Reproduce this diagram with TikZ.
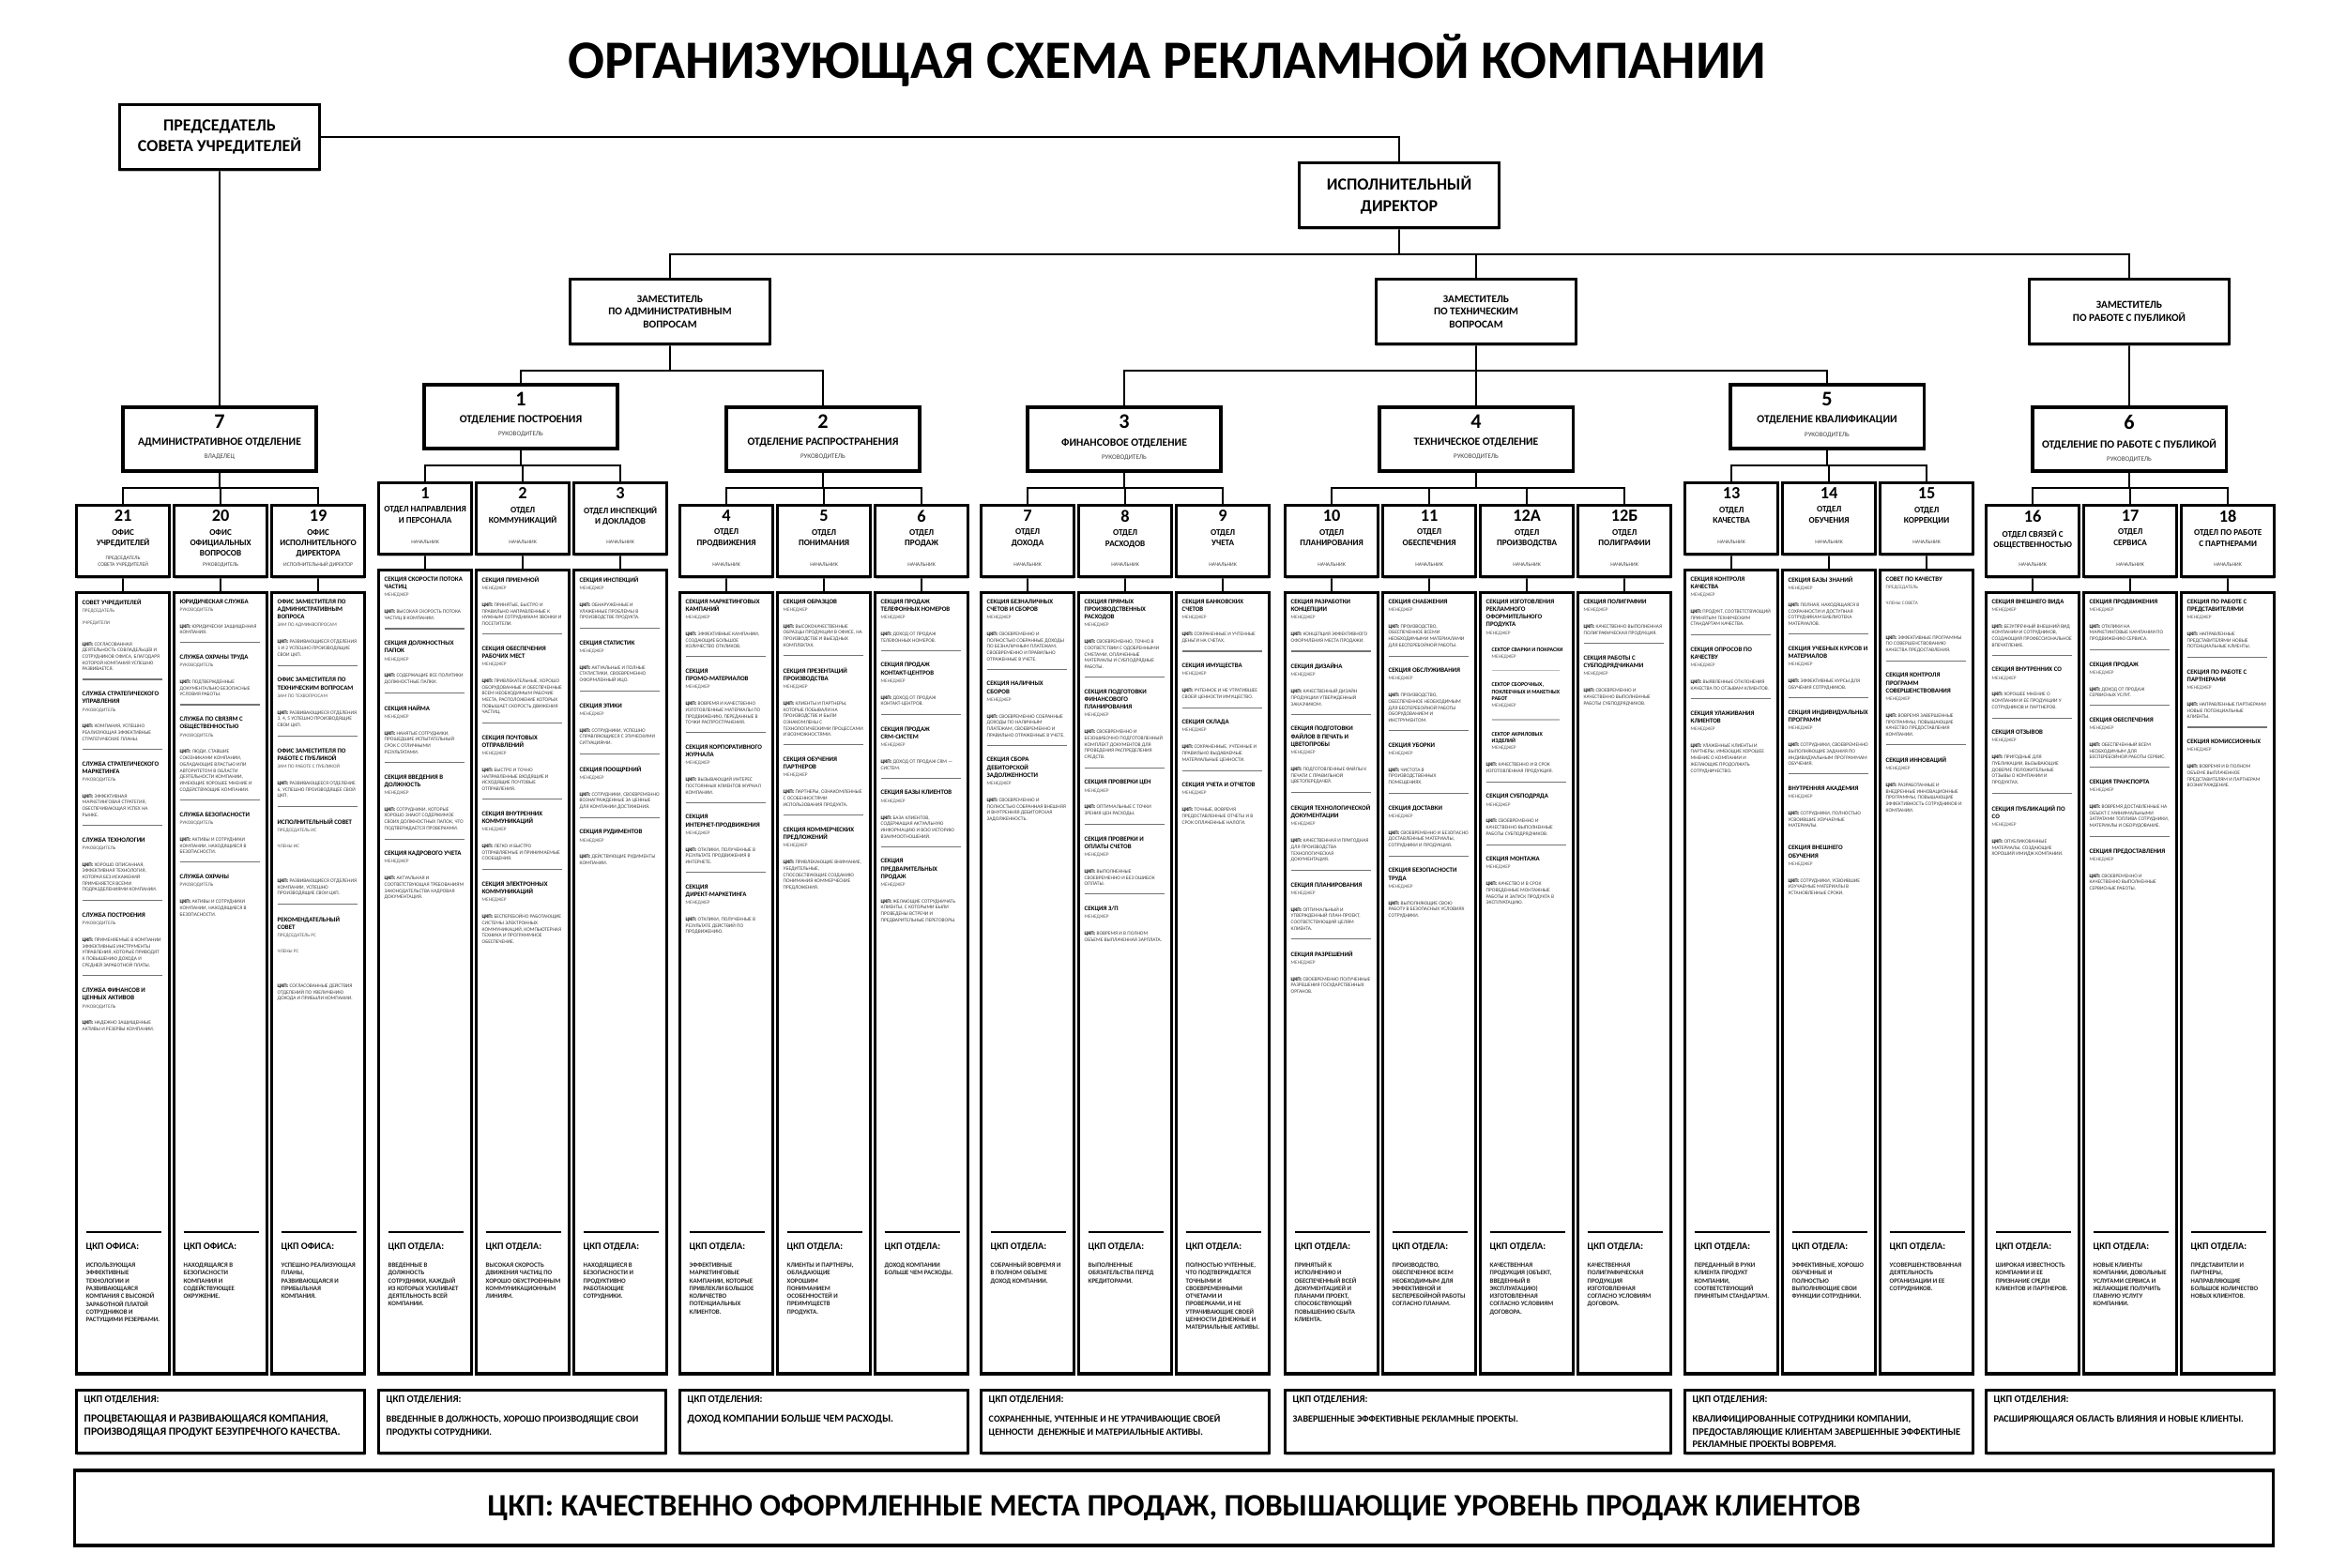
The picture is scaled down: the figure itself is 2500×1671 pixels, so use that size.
\documentclass[tikz,border=0pt]{standalone}
\usepackage{fontspec}
\setmainfont{Carlito}
\usepackage{xcolor}
\usetikzlibrary{positioning}
\usetikzlibrary{shadows}
\pgfdeclarelayer{edgelayer}
\pgfdeclarelayer{nodelayer}
\pgfsetlayers{edgelayer,nodelayer,main}
\tikzstyle{none}=[inner sep=0mm]
\tikzstyle{box}=[draw=black,line width=0.9pt,fill=white,inner sep=0mm,drop shadow={shadow xshift=0pt,shadow yshift=-0.6pt,opacity=0.55}]
\tikzstyle{headline}=[none,font=\fontsize{16.4}{19}\selectfont\bfseries]
\tikzstyle{top box}=[box,minimum width=2.13cm,minimum height=0.69cm,align=center,font=\fontsize{5.1}{6.4}\selectfont\bfseries]
\tikzstyle{deputy}=[box,minimum width=2.13cm,minimum height=0.69cm,align=center,font=\fontsize{3.2}{3.8}\selectfont\bfseries]
\tikzstyle{dept}=[box,minimum width=2.06cm,minimum height=0.68cm]
\tikzstyle{dnum}=[none,font=\fontsize{6.3}{6.3}\selectfont\bfseries]
\tikzstyle{dname}=[none,font=\fontsize{3.3}{4}\selectfont\bfseries]
\tikzstyle{drole}=[none,font=\fontsize{2}{2.4}\selectfont,text=black!75]
\tikzstyle{hdr}=[box,minimum width=0.99cm,minimum height=0.76cm]
\tikzstyle{hnum}=[none,font=\fontsize{5.2}{5.2}\selectfont\bfseries]
\tikzstyle{hname}=[none,align=center,font=\fontsize{2.6}{3.2}\selectfont\bfseries]
\tikzstyle{hrole}=[none,align=center,font=\fontsize{1.6}{1.9}\selectfont,text=black!75]
\tikzstyle{col}=[box,minimum width=0.99cm]
\tikzstyle{coltext}=[none,text width=0.85cm,align=left,font=\fontsize{1.6}{1.9}\selectfont]
\tikzstyle{colcpk}=[none,text width=0.8cm,align=left,font=\fontsize{2}{2.4}\selectfont]
\tikzstyle{cpk}=[box,minimum height=0.67cm]
\tikzstyle{divtext}=[none,text width=3.9cm,align=left,font=\fontsize{3.1}{3.75}\selectfont]
\tikzstyle{bottom box}=[box,minimum width=23.42cm,minimum height=0.8cm,font=\fontsize{9.45}{11}\selectfont\bfseries]
\tikzstyle{link}=[line width=0.65pt]

% small type: normal interword spaces, plain ragged right
\newcommand{\orgfs}[2]{\fontsize{#1}{#2}\selectfont\spaceskip=0pt\xspaceskip=0pt\rightskip=0pt plus 1fil\relax}
% text blocks of the columns
\newcommand{\orgsec}[3]{{\orgfs{1.95}{2.35}\bfseries #1\par}%
  {\orgfs{1.5}{2.3}\color{black!65}#2\par}%
  \vskip 3.2pt
  {\orgfs{1.55}{1.9}\color{black!75}{\color{black}\bfseries ЦКП:} #3\par}}
\newcommand{\orgm}[2]{\orgsec{#1}{МЕНЕДЖЕР}{#2}}
\newcommand{\orgsep}{\vskip 2.4pt{\color{black!55}\hrule height 0.3pt}\vskip 3.6pt}
\newcommand{\orgmembers}[2]{#1\par\vskip 2.5pt #2\par\vskip 5.4pt}
\newcommand{\orgsector}[1]{{\leftskip=0.06cm\orgfs{1.7}{2.1}\color{black}\bfseries #1\par}%
  {\leftskip=0.06cm\orgfs{1.5}{2.1}МЕНЕДЖЕР\par}}
\newcommand{\orgsubsep}{\vskip 1.6pt\moveright0.06cm\vbox{\color{black!25}\hrule width 0.72cm height 0.3pt}\vskip 2.6pt}
\newcommand{\orgcpk}[2]{\hrule height 0.55pt\vskip 3.2pt{\orgfs{2.9}{3.4}\bfseries ЦКП #1:\par}%
  \vskip 3pt{\orgfs{1.95}{2.36}\bfseries\color{black!85}#2\par}}
\newcommand{\orgdivtext}[2]{{\orgfs{3}{3.6}\bfseries ЦКП ОТДЕЛЕНИЯ:\par}%
  \vskip 2.3pt{\orgfs{#1}{3.75}\bfseries #2\par}}

% boxes
\newcommand{\orgdept}[6]{%
  \node[dept] (#1) at (#2,#3) {};
  \node[dnum,below=0.09cm of #1.north] (#1n) {#4};
  \node[dname,below=0.09cm of #1n] (#1t) {#5};
  \node[drole,below=0.065cm of #1t] (#1r) {#6};}
\newcommand{\orghdr}[6]{%
  \node[hdr,anchor=north west] (#1) at (#2,#3) {};
  \node[hnum,below=0.06cm of #1.north] (#1n) {#4};
  \node[hname,below=0.07cm of #1n] (#1t) {#5};
  \node[hrole,above=0.115cm of #1.south] (#1r) {#6};}
\newcommand{\orgcol}[7]{%
  \node[col,minimum height=#4,anchor=north west] (#1) at (#2,#3) {};
  \node[coltext,anchor=north west] (#1s) at (#2+7,#3+8) {#5};
  \node[colcpk,anchor=north west] (#1k) at (#2+11,1311) {\orgcpk{#6}{#7}};}
\newcommand{\orgdiv}[5]{%
  \node[cpk,minimum width=#3,anchor=north west] (#1) at (#2,1480) {};
  \node[divtext,anchor=north west] (#1t) at (#2+9,1487) {\orgdivtext{#4}{#5}};}

\begin{document}
\begin{tikzpicture}[x=0.01cm,y=-0.01cm]
	\useasboundingbox (0,0) rectangle (2500,1671);
	\begin{pgfonlayer}{edgelayer}
		\fill[white] (0,0) rectangle (2500,1671);
	\end{pgfonlayer}
	\begin{pgfonlayer}{nodelayer}
		\node [style=headline] (title) at (1244,64) {ОРГАНИЗУЮЩАЯ СХЕМА РЕКЛАМНОЙ КОМПАНИИ};
		\node [style=top box] (chair) at (234,146) {ПРЕДСЕДАТЕЛЬ\\СОВЕТА УЧРЕДИТЕЛЕЙ};
		\node [style=top box] (exec) at (1491,208) {ИСПОЛНИТЕЛЬНЫЙ\\ДИРЕКТОР};
		\node [style=deputy] (depadm) at (714,332) {ЗАМЕСТИТЕЛЬ\\ПО АДМИНИСТРАТИВНЫМ\\ВОПРОСАМ};
		\node [style=deputy] (deptech) at (1573,332) {ЗАМЕСТИТЕЛЬ\\ПО ТЕХНИЧЕСКИМ\\ВОПРОСАМ};
		\node [style=deputy] (deppub) at (2269,332) {ЗАМЕСТИТЕЛЬ\\ПО РАБОТЕ С ПУБЛИКОЙ};

		\orgdept{d7}{234}{468}{7}{АДМИНИСТРАТИВНОЕ ОТДЕЛЕНИЕ}{ВЛАДЕЛЕЦ}
		\orgdept{d1}{555}{444}{1}{ОТДЕЛЕНИЕ ПОСТРОЕНИЯ}{РУКОВОДИТЕЛЬ}
		\orgdept{d2}{877}{468}{2}{ОТДЕЛЕНИЕ РАСПРОСТРАНЕНИЯ}{РУКОВОДИТЕЛЬ}
		\orgdept{d3}{1198}{468}{3}{ФИНАНСОВОЕ ОТДЕЛЕНИЕ}{РУКОВОДИТЕЛЬ}
		\orgdept{d4}{1573}{468}{4}{ТЕХНИЧЕСКОЕ ОТДЕЛЕНИЕ}{РУКОВОДИТЕЛЬ}
		\orgdept{d5}{1947}{444}{5}{ОТДЕЛЕНИЕ КВАЛИФИКАЦИИ}{РУКОВОДИТЕЛЬ}
		\orgdept{d6}{2269}{468}{6}{ОТДЕЛЕНИЕ ПО РАБОТЕ С ПУБЛИКОЙ}{РУКОВОДИТЕЛЬ}

		% column heads
		\orghdr{h21}{80}{537}{21}{ОФИС\\УЧРЕДИТЕЛЕЙ}{ПРЕДСЕДАТЕЛЬ\\СОВЕТА УЧРЕДИТЕЛЕЙ}
		\orghdr{h20}{184}{537}{20}{ОФИС\\ОФИЦИАЛЬНЫХ\\ВОПРОСОВ}{РУКОВОДИТЕЛЬ}
		\orghdr{h19}{288}{537}{19}{ОФИС\\ИСПОЛНИТЕЛЬНОГО\\ДИРЕКТОРА}{ИСПОЛНИТЕЛЬНЫЙ ДИРЕКТОР}
		\orghdr{h1}{402}{513}{1}{ОТДЕЛ НАПРАВЛЕНИЯ\\И ПЕРСОНАЛА}{НАЧАЛЬНИК}
		\orghdr{h2}{506}{513}{2}{ОТДЕЛ\\КОММУНИКАЦИЙ}{НАЧАЛЬНИК}
		\orghdr{h3}{610}{513}{3}{ОТДЕЛ ИНСПЕКЦИЙ\\И ДОКЛАДОВ}{НАЧАЛЬНИК}
		\orghdr{h4}{723}{537}{4}{ОТДЕЛ\\ПРОДВИЖЕНИЯ}{НАЧАЛЬНИК}
		\orghdr{h5}{827}{537}{5}{ОТДЕЛ\\ПОНИМАНИЯ}{НАЧАЛЬНИК}
		\orghdr{h6}{931}{537}{6}{ОТДЕЛ\\ПРОДАЖ}{НАЧАЛЬНИК}
		\orghdr{h7}{1044}{537}{7}{ОТДЕЛ\\ДОХОДА}{НАЧАЛЬНИК}
		\orghdr{h8}{1148}{537}{8}{ОТДЕЛ\\РАСХОДОВ}{НАЧАЛЬНИК}
		\orghdr{h9}{1252}{537}{9}{ОТДЕЛ\\УЧЕТА}{НАЧАЛЬНИК}
		\orghdr{h10}{1368}{537}{10}{ОТДЕЛ\\ПЛАНИРОВАНИЯ}{НАЧАЛЬНИК}
		\orghdr{h11}{1472}{537}{11}{ОТДЕЛ\\ОБЕСПЕЧЕНИЯ}{НАЧАЛЬНИК}
		\orghdr{h12a}{1576}{537}{12А}{ОТДЕЛ\\ПРОИЗВОДСТВА}{НАЧАЛЬНИК}
		\orghdr{h12b}{1680}{537}{12Б}{ОТДЕЛ\\ПОЛИГРАФИИ}{НАЧАЛЬНИК}
		\orghdr{h13}{1794}{513}{13}{ОТДЕЛ\\КАЧЕСТВА}{НАЧАЛЬНИК}
		\orghdr{h14}{1898}{513}{14}{ОТДЕЛ\\ОБУЧЕНИЯ}{НАЧАЛЬНИК}
		\orghdr{h15}{2002}{513}{15}{ОТДЕЛ\\КОРРЕКЦИИ}{НАЧАЛЬНИК}
		\orghdr{h16}{2115}{537}{16}{ОТДЕЛ СВЯЗЕЙ С\\ОБЩЕСТВЕННОСТЬЮ}{НАЧАЛЬНИК}
		\orghdr{h17}{2219}{537}{17}{ОТДЕЛ\\СЕРВИСА}{НАЧАЛЬНИК}
		\orghdr{h18}{2323}{537}{18}{ОТДЕЛ ПО РАБОТЕ\\С ПАРТНЕРАМИ}{НАЧАЛЬНИК}

		% columns
		\orgcol{c21}{80}{630}{8.32cm}{%
			\orgsec{СОВЕТ УЧРЕДИТЕЛЕЙ}{ПРЕДСЕДАТЕЛЬ\par\vskip 1.4pt УЧРЕДИТЕЛИ\par\vskip 1.4pt}{СОГЛАСОВАННАЯ ДЕЯТЕЛЬНОСТЬ СОВЛАДЕЛЬЦЕВ И СОТРУДНИКОВ ОФИСА, БЛАГОДАРЯ КОТОРОЙ КОМПАНИЯ УСПЕШНО РАЗВИВАЕТСЯ.}\orgsep
			\orgsec{СЛУЖБА СТРАТЕГИЧЕСКОГО УПРАВЛЕНИЯ}{РУКОВОДИТЕЛЬ}{КОМПАНИЯ, УСПЕШНО РЕАЛИЗУЮЩАЯ ЭФФЕКТИВНЫЕ СТРАТЕГИЧЕСКИЕ ПЛАНЫ.}\orgsep
			\orgsec{СЛУЖБА СТРАТЕГИЧЕСКОГО МАРКЕТИНГА}{РУКОВОДИТЕЛЬ}{ЭФФЕКТИВНАЯ МАРКЕТИНГОВАЯ СТРАТЕГИЯ, ОБЕСПЕЧИВАЮЩАЯ УСПЕХ НА РЫНКЕ.}\orgsep
			\orgsec{СЛУЖБА ТЕХНОЛОГИИ}{РУКОВОДИТЕЛЬ}{ХОРОШО ОПИСАННАЯ, ЭФФЕКТИВНАЯ ТЕХНОЛОГИЯ, КОТОРАЯ БЕЗ ИСКАЖЕНИЙ ПРИМЕНЯЕТСЯ ВСЕМИ ПОДРАЗДЕЛЕНИЯМИ КОМПАНИИ.}\orgsep
			\orgsec{СЛУЖБА ПОСТРОЕНИЯ}{РУКОВОДИТЕЛЬ}{ПРИМЕНЯЕМЫЕ В КОМПАНИИ ЭФФЕКТИВНЫЕ ИНСТРУМЕНТЫ УПРАВЛЕНИЯ, КОТОРЫЕ ПРИВОДЯТ К ПОВЫШЕНИЮ ДОХОДА И СРЕДНЕЙ ЗАРАБОТНОЙ ПЛАТЫ.}\orgsep
			\orgsec{СЛУЖБА ФИНАНСОВ И ЦЕННЫХ АКТИВОВ}{РУКОВОДИТЕЛЬ}{НАДЕЖНО ЗАЩИЩЕННЫЕ АКТИВЫ И РЕЗЕРВЫ КОМПАНИИ.}}%
			{ОФИСА}{ИСПОЛЬЗУЮЩАЯ ЭФФЕКТИВНЫЕ ТЕХНОЛОГИИ И РАЗВИВАЮЩАЯСЯ КОМПАНИЯ С ВЫСОКОЙ ЗАРАБОТНОЙ ПЛАТОЙ СОТРУДНИКОВ И РАСТУЩИМИ РЕЗЕРВАМИ.}
		\orgcol{c20}{184}{630}{8.32cm}{%
			\orgsec{ЮРИДИЧЕСКАЯ СЛУЖБА}{РУКОВОДИТЕЛЬ}{ЮРИДИЧЕСКИ ЗАЩИЩЕННАЯ КОМПАНИЯ.}\orgsep
			\orgsec{СЛУЖБА ОХРАНЫ ТРУДА}{РУКОВОДИТЕЛЬ}{ПОДТВЕРЖДЕННЫЕ ДОКУМЕНТАЛЬНО БЕЗОПАСНЫЕ УСЛОВИЯ РАБОТЫ.}\orgsep
			\orgsec{СЛУЖБА ПО СВЯЗЯМ С ОБЩЕСТВЕННОСТЬЮ}{РУКОВОДИТЕЛЬ}{ЛЮДИ, СТАВШИЕ СОЮЗНИКАМИ КОМПАНИИ, ОБЛАДАЮЩИЕ ВЛАСТЬЮ ИЛИ АВТОРИТЕТОМ В ОБЛАСТИ ДЕЯТЕЛЬНОСТИ КОМПАНИИ, ИМЕЮЩИЕ ХОРОШЕЕ МНЕНИЕ И СОДЕЙСТВУЮЩИЕ КОМПАНИИ.}\orgsep
			\orgsec{СЛУЖБА БЕЗОПАСНОСТИ}{РУКОВОДИТЕЛЬ}{АКТИВЫ И СОТРУДНИКИ КОМПАНИИ, НАХОДЯЩИЕСЯ В БЕЗОПАСНОСТИ.}\orgsep
			\orgsec{СЛУЖБА ОХРАНЫ}{РУКОВОДИТЕЛЬ}{АКТИВЫ И СОТРУДНИКИ КОМПАНИИ, НАХОДЯЩИЕСЯ В БЕЗОПАСНОСТИ.}}%
			{ОФИСА}{НАХОДЯЩАЯСЯ В БЕЗОПАСНОСТИ КОМПАНИЯ И СОДЕЙСТВУЮЩЕЕ ОКРУЖЕНИЕ.}
		\orgcol{c19}{288}{630}{8.32cm}{%
			\orgsec{ОФИС ЗАМЕСТИТЕЛЯ ПО АДМИНИСТРАТИВНЫМ ВОПРОСА}{ЗАМ ПО АДМИНВОПРОСАМ}{РАЗВИВАЮЩИЕСЯ ОТДЕЛЕНИЯ 1 И 2 УСПЕШНО ПРОИЗВОДЯЩИЕ СВОИ ЦКП.}\orgsep
			\orgsec{ОФИС ЗАМЕСТИТЕЛЯ ПО ТЕХНИЧЕСКИМ ВОПРОСАМ}{ЗАМ ПО ТЕХВОПРОСАМ}{РАЗВИВАЮЩИЕСЯ ОТДЕЛЕНИЯ 3, 4, 5 УСПЕШНО ПРОИЗВОДЯЩИЕ СВОИ ЦКП.}\orgsep
			\orgsec{ОФИС ЗАМЕСТИТЕЛЯ ПО РАБОТЕ С ПУБЛИКОЙ}{ЗАМ ПО РАБОТЕ С ПУБЛИКОЙ}{РАЗВИВАЮЩЕЕСЯ ОТДЕЛЕНИЕ 6, УСПЕШНО ПРОИЗВОДЯЩЕЕ СВОЙ ЦКП.}\orgsep
			\orgsec{ИСПОЛНИТЕЛЬНЫЙ СОВЕТ}{\orgmembers{ПРЕДСЕДАТЕЛЬ ИС}{ЧЛЕНЫ ИС}}{РАЗВИВАЮЩИЕСЯ ОТДЕЛЕНИЯ КОМПАНИИ, УСПЕШНО ПРОИЗВОДЯЩИЕ СВОИ ЦКП.}\orgsep
			\orgsec{РЕКОМЕНДАТЕЛЬНЫЙ СОВЕТ}{\orgmembers{ПРЕДСЕДАТЕЛЬ РС}{ЧЛЕНЫ РС}}{СОГЛАСОВАННЫЕ ДЕЙСТВИЯ ОТДЕЛЕНИЙ ПО УВЕЛИЧЕНИЮ ДОХОДА И ПРИБЫЛИ КОМПАНИИ.}}%
			{ОФИСА}{УСПЕШНО РЕАЛИЗУЮЩАЯ ПЛАНЫ, РАЗВИВАЮЩАЯСЯ И ПРИБЫЛЬНАЯ КОМПАНИЯ.}
		\orgcol{c1}{402}{606}{8.56cm}{%
			\orgm{СЕКЦИЯ СКОРОСТИ ПОТОКА ЧАСТИЦ}{ВЫСОКАЯ СКОРОСТЬ ПОТОКА ЧАСТИЦ В КОМПАНИИ.}\orgsep
			\orgm{СЕКЦИЯ ДОЛЖНОСТНЫХ ПАПОК}{СОДЕРЖАЩИЕ ВСЕ ПОЛИТИКИ ДОЛЖНОСТНЫЕ ПАПКИ.}\orgsep
			\orgm{СЕКЦИЯ НАЙМА}{НАНЯТЫЕ СОТРУДНИКИ, ПРОШЕДШИЕ ИСПЫТАТЕЛЬНЫЙ СРОК С ОТЛИЧНЫМИ РЕЗУЛЬТАТАМИ.}\orgsep
			\orgm{СЕКЦИЯ ВВЕДЕНИЯ В ДОЛЖНОСТЬ}{СОТРУДНИКИ, КОТОРЫЕ ХОРОШО ЗНАЮТ СОДЕРЖИМОЕ СВОИХ ДОЛЖНОСТНЫХ ПАПОК, ЧТО ПОДТВЕРЖДАЕТСЯ ПРОВЕРКАМИ.}\orgsep
			\orgm{СЕКЦИЯ КАДРОВОГО УЧЕТА}{АКТУАЛЬНАЯ И СООТВЕТСТВУЮЩАЯ ТРЕБОВАНИЯМ ЗАКОНОДАТЕЛЬСТВА КАДРОВАЯ ДОКУМЕНТАЦИЯ.}}%
			{ОТДЕЛА}{ВВЕДЕННЫЕ В ДОЛЖНОСТЬ СОТРУДНИКИ, КАЖДЫЙ ИЗ КОТОРЫХ УСИЛИВАЕТ ДЕЯТЕЛЬНОСТЬ ВСЕЙ КОМПАНИИ.}
		\orgcol{c2}{506}{606}{8.56cm}{%
			\orgm{СЕКЦИЯ ПРИЕМНОЙ}{ПРИНЯТЫЕ, БЫСТРО И ПРАВИЛЬНО НАПРАВЛЕННЫЕ К НУЖНЫМ СОТРУДНИКАМ ЗВОНКИ И ПОСЕТИТЕЛИ.}\orgsep
			\orgm{СЕКЦИЯ ОБЕСПЕЧЕНИЯ РАБОЧИХ МЕСТ}{ПРИВЛЕКАТЕЛЬНЫЕ, ХОРОШО ОБОРУДОВАННЫЕ И ОБЕСПЕЧЕННЫЕ ВСЕМ НЕОБХОДИМЫМ РАБОЧИЕ МЕСТА, РАСПОЛОЖЕНИЕ КОТОРЫХ ПОВЫШАЕТ СКОРОСТЬ ДВИЖЕНИЯ ЧАСТИЦ.}\orgsep
			\orgm{СЕКЦИЯ ПОЧТОВЫХ ОТПРАВЛЕНИЙ}{БЫСТРО И ТОЧНО НАПРАВЛЕННЫЕ ВХОДЯЩИЕ И ИСХОДЯЩИЕ ПОЧТОВЫЕ ОТПРАВЛЕНИЯ.}\orgsep
			\orgm{СЕКЦИЯ ВНУТРЕННИХ КОММУНИКАЦИЙ}{ЛЕГКО И БЫСТРО ОТПРАВЛЯЕМЫЕ И ПРИНИМАЕМЫЕ СООБЩЕНИЯ.}\orgsep
			\orgm{СЕКЦИЯ ЭЛЕКТРОННЫХ КОММУНИКАЦИЙ}{БЕСПЕРЕБОЙНО РАБОТАЮЩИЕ СИСТЕМЫ ЭЛЕКТРОННЫХ КОММУНИКАЦИЙ, КОМПЬЮТЕРНАЯ ТЕХНИКА И ПРОГРАММНОЕ ОБЕСПЕЧЕНИЕ.}}%
			{ОТДЕЛА}{ВЫСОКАЯ СКОРОСТЬ ДВИЖЕНИЯ ЧАСТИЦ ПО ХОРОШО ОБУСТРОЕННЫМ КОММУНИКАЦИОННЫМ ЛИНИЯМ.}
		\orgcol{c3}{610}{606}{8.56cm}{%
			\orgm{СЕКЦИЯ ИНСПЕКЦИЙ}{ОБНАРУЖЕННЫЕ И УЛАЖЕННЫЕ ПРОБЛЕМЫ В ПРОИЗВОДСТВЕ ПРОДУКТА.}\orgsep
			\orgm{СЕКЦИЯ СТАТИСТИК}{АКТУАЛЬНЫЕ И ПОЛНЫЕ СТАТИСТИКИ, СВОЕВРЕМЕННО ОФОРМЛЕННЫЙ ИЦО.}\orgsep
			\orgm{СЕКЦИЯ ЭТИКИ}{СОТРУДНИКИ, УСПЕШНО СПРАВЛЯЮЩИЕСЯ С ЭТИЧЕСКИМИ СИТУАЦИЯМИ.}\orgsep
			\orgm{СЕКЦИЯ ПООЩРЕНИЙ}{СОТРУДНИКИ, СВОЕВРЕМЕННО ВОЗНАГРАЖДЕННЫЕ ЗА ЦЕННЫЕ ДЛЯ КОМПАНИИ ДОСТИЖЕНИЯ.}\orgsep
			\orgm{СЕКЦИЯ РУДИМЕНТОВ}{ДЕЙСТВУЮЩИЕ РУДИМЕНТЫ КОМПАНИИ.}}%
			{ОТДЕЛА}{НАХОДЯЩИЕСЯ В БЕЗОПАСНОСТИ И ПРОДУКТИВНО РАБОТАЮЩИЕ СОТРУДНИКИ.}
		\orgcol{c4}{723}{630}{8.32cm}{%
			\orgm{СЕКЦИЯ МАРКЕТИНГОВЫХ КАМПАНИЙ}{ЭФФЕКТИВНЫЕ КАМПАНИИ, СОЗДАЮЩИЕ БОЛЬШОЕ КОЛИЧЕСТВО ОТКЛИКОВ.}\orgsep
			\orgm{СЕКЦИЯ ПРОМО-МАТЕРИАЛОВ}{ВОВРЕМЯ И КАЧЕСТВЕННО ИЗГОТОВЛЕННЫЕ МАТЕРИАЛЫ ПО ПРОДВИЖЕНИЮ, ПЕРЕДАННЫЕ В ТОЧКИ РАСПРОСТРАНЕНИЯ.}\orgsep
			\orgm{СЕКЦИЯ КОРПОРАТИВНОГО ЖУРНАЛА}{ВЫЗЫВАЮЩИЙ ИНТЕРЕС ПОСТОЯННЫХ КЛИЕНТОВ ЖУРНАЛ КОМПАНИИ.}\orgsep
			\orgm{СЕКЦИЯ ИНТЕРНЕТ-ПРОДВИЖЕНИЯ}{ОТКЛИКИ, ПОЛУЧЕННЫЕ В РЕЗУЛЬТАТЕ ПРОДВИЖЕНИЯ В ИНТЕРНЕТЕ.}\orgsep
			\orgm{СЕКЦИЯ ДИРЕКТ-МАРКЕТИНГА}{ОТКЛИКИ, ПОЛУЧЕННЫЕ В РЕЗУЛЬТАТЕ ДЕЙСТВИЙ ПО ПРОДВИЖЕНИЮ.}}%
			{ОТДЕЛА}{ЭФФЕКТИВНЫЕ МАРКЕТИНГОВЫЕ КАМПАНИИ, КОТОРЫЕ ПРИВЛЕКЛИ БОЛЬШОЕ КОЛИЧЕСТВО ПОТЕНЦИАЛЬНЫХ КЛИЕНТОВ.}
		\orgcol{c5}{827}{630}{8.32cm}{%
			\orgm{СЕКЦИЯ ОБРАЗЦОВ}{ВЫСОКОКАЧЕСТВЕННЫЕ ОБРАЗЦЫ ПРОДУКЦИИ В ОФИСЕ, НА ПРОИЗВОДСТВЕ И ВЫЕЗДНЫХ КОМПЛЕКТАХ.}\orgsep
			\orgm{СЕКЦИЯ ПРЕЗЕНТАЦИЙ ПРОИЗВОДСТВА}{КЛИЕНТЫ И ПАРТНЕРЫ, КОТОРЫЕ ПОБЫВАЛИ НА ПРОИЗВОДСТВЕ И БЫЛИ ОЗНАКОМЛЕНЫ С ТЕХНОЛОГИЧЕСКИМИ ПРОЦЕССАМИ И ВОЗМОЖНОСТЯМИ.}\orgsep
			\orgm{СЕКЦИЯ ОБУЧЕНИЯ ПАРТНЕРОВ}{ПАРТНЕРЫ, ОЗНАКОМЛЕННЫЕ С ОСОБЕННОСТЯМИ ИСПОЛЬЗОВАНИЯ ПРОДУКТА.}\orgsep
			\orgm{СЕКЦИЯ КОММЕРЧЕСКИХ ПРЕДЛОЖЕНИЙ}{ПРИВЛЕКАЮЩИЕ ВНИМАНИЕ, УБЕДИТЕЛЬНЫЕ, СПОСОБСТВУЮЩИЕ СОЗДАНИЮ ПОНИМАНИЯ КОММЕРЧЕСКИЕ ПРЕДЛОЖЕНИЯ.}}%
			{ОТДЕЛА}{КЛИЕНТЫ И ПАРТНЕРЫ, ОБЛАДАЮЩИЕ ХОРОШИМ ПОНИМАНИЕМ ОСОБЕННОСТЕЙ И ПРЕИМУЩЕСТВ ПРОДУКТА.}
		\orgcol{c6}{931}{630}{8.32cm}{%
			\orgm{СЕКЦИЯ ПРОДАЖ ТЕЛЕФОННЫХ НОМЕРОВ}{ДОХОД ОТ ПРОДАЖ ТЕЛЕФОННЫХ НОМЕРОВ.}\orgsep
			\orgm{СЕКЦИЯ ПРОДАЖ КОНТАКТ-ЦЕНТРОВ}{ДОХОД ОТ ПРОДАЖ КОНТАКТ-ЦЕНТРОВ.}\orgsep
			\orgm{СЕКЦИЯ ПРОДАЖ CRM-СИСТЕМ}{ДОХОД ОТ ПРОДАЖ CRM — СИСТЕМ.}\orgsep
			\orgm{СЕКЦИЯ БАЗЫ КЛИЕНТОВ}{БАЗА КЛИЕНТОВ, СОДЕРЖАЩАЯ АКТУАЛЬНУЮ ИНФОРМАЦИЮ И ВСЮ ИСТОРИЮ ВЗАИМООТНОШЕНИЙ.}\orgsep
			\orgm{СЕКЦИЯ ПРЕДВАРИТЕЛЬНЫХ ПРОДАЖ}{ЖЕЛАЮЩИЕ СОТРУДНИЧАТЬ КЛИЕНТЫ, С КОТОРЫМИ БЫЛИ ПРОВЕДЕНЫ ВСТРЕЧИ И ПРЕДВАРИТЕЛЬНЫЕ ПЕРЕГОВОРЫ.}}%
			{ОТДЕЛА}{ДОХОД КОМПАНИИ БОЛЬШЕ ЧЕМ РАСХОДЫ.}
		\orgcol{c7}{1044}{630}{8.32cm}{%
			\orgm{СЕКЦИЯ БЕЗНАЛИЧНЫХ СЧЕТОВ И СБОРОВ}{СВОЕВРЕМЕННО И ПОЛНОСТЬЮ СОБРАННЫЕ ДОХОДЫ ПО БЕЗНАЛИЧНЫМ ПЛАТЕЖАМ, СВОЕВРЕМЕННО И ПРАВИЛЬНО ОТРАЖЕННЫЕ В УЧЕТЕ.}\orgsep
			\orgm{СЕКЦИЯ НАЛИЧНЫХ СБОРОВ}{СВОЕВРЕМЕННО СОБРАННЫЕ ДОХОДЫ ПО НАЛИЧНЫМ ПЛАТЕЖАМ, СВОЕВРЕМЕННО И ПРАВИЛЬНО ОТРАЖЕННЫЕ В УЧЕТЕ.}\orgsep
			\orgm{СЕКЦИЯ СБОРА ДЕБИТОРСКОЙ ЗАДОЛЖЕННОСТИ}{СВОЕВРЕМЕННО И ПОЛНОСТЬЮ СОБРАННАЯ ВНЕШНЯЯ И ВНУТРЕННЯЯ ДЕБИТОРСКАЯ ЗАДОЛЖЕННОСТЬ.}}%
			{ОТДЕЛА}{СОБРАННЫЙ ВОВРЕМЯ И В ПОЛНОМ ОБЪЕМЕ ДОХОД КОМПАНИИ.}
		\orgcol{c8}{1148}{630}{8.32cm}{%
			\orgm{СЕКЦИЯ ПРЯМЫХ ПРОИЗВОДСТВЕННЫХ РАСХОДОВ}{СВОЕВРЕМЕННО, ТОЧНО В СООТВЕТСТВИИ С ОДОБРЕННЫМИ СМЕТАМИ, ОПЛАЧЕННЫЕ МАТЕРИАЛЫ И СУБПОДРЯДНЫЕ РАБОТЫ.}\orgsep
			\orgm{СЕКЦИЯ ПОДГОТОВКИ ФИНАНСОВОГО ПЛАНИРОВАНИЯ}{СВОЕВРЕМЕННО И БЕЗОШИБОЧНО ПОДГОТОВЛЕННЫЙ КОМПЛЕКТ ДОКУМЕНТОВ ДЛЯ ПРОВЕДЕНИЯ РАСПРЕДЕЛЕНИЯ СРЕДСТВ.}\orgsep
			\orgm{СЕКЦИЯ ПРОВЕРКИ ЦЕН}{ОПТИМАЛЬНЫЕ С ТОЧКИ ЗРЕНИЯ ЦЕН РАСХОДЫ.}\orgsep
			\orgm{СЕКЦИЯ ПРОВЕРКИ И ОПЛАТЫ СЧЕТОВ}{ВЫПОЛНЕННЫЕ СВОЕВРЕМЕННО И БЕЗ ОШИБОК ОПЛАТЫ.}\orgsep
			\orgm{СЕКЦИЯ З/П}{ВОВРЕМЯ И В ПОЛНОМ ОБЪЕМЕ ВЫПЛАЧЕННАЯ ЗАРПЛАТА.}}%
			{ОТДЕЛА}{ВЫПОЛНЕННЫЕ ОБЯЗАТЕЛЬСТВА ПЕРЕД КРЕДИТОРАМИ.}
		\orgcol{c9}{1252}{630}{8.32cm}{%
			\orgm{СЕКЦИЯ БАНКОВСКИХ СЧЕТОВ}{СОХРАНЕННЫЕ И УЧТЕННЫЕ ДЕНЬГИ НА СЧЕТАХ.}\orgsep
			\orgm{СЕКЦИЯ ИМУЩЕСТВА}{УЧТЕННОЕ И НЕ УТРАТИВШЕЕ СВОЕЙ ЦЕННОСТИ ИМУЩЕСТВО.}\orgsep
			\orgm{СЕКЦИЯ СКЛАДА}{СОХРАНЕННЫЕ, УЧТЕННЫЕ И ПРАВИЛЬНО ВЫДАВАЕМЫЕ МАТЕРИАЛЬНЫЕ ЦЕННОСТИ.}\orgsep
			\orgm{СЕКЦИЯ УЧЕТА И ОТЧЕТОВ}{ТОЧНЫЕ, ВОВРЕМЯ ПРЕДОСТАВЛЕННЫЕ ОТЧЕТЫ И В СРОК ОПЛАЧЕННЫЕ НАЛОГИ.}}%
			{ОТДЕЛА}{ПОЛНОСТЬЮ УЧТЕННЫЕ, ЧТО ПОДТВЕРЖДАЕТСЯ ТОЧНЫМИ И СВОЕВРЕМЕННЫМИ ОТЧЕТАМИ И ПРОВЕРКАМИ, И НЕ УТРАЧИВАЮЩИЕ СВОЕЙ ЦЕННОСТИ ДЕНЕЖНЫЕ И МАТЕРИАЛЬНЫЕ АКТИВЫ.}
		\orgcol{c10}{1368}{630}{8.32cm}{%
			\orgm{СЕКЦИЯ РАЗРАБОТКИ КОНЦЕПЦИИ}{КОНЦЕПЦИЯ ЭФФЕКТИВНОГО ОФОРМЛЕНИЯ МЕСТА ПРОДАЖИ.}\orgsep
			\orgm{СЕКЦИЯ ДИЗАЙНА}{КАЧЕСТВЕННЫЙ ДИЗАЙН ПРОДУКЦИИ УТВЕРЖДЕННЫЙ ЗАКАЗЧИКОМ.}\orgsep
			\orgm{СЕКЦИЯ ПОДГОТОВКИ ФАЙЛОВ В ПЕЧАТЬ И ЦВЕТОПРОБЫ}{ПОДГОТОВЛЕННЫЕ ФАЙЛЫ К ПЕЧАТИ С ПРАВИЛЬНОЙ ЦВЕТОПЕРЕДАЧЕЙ.}\orgsep
			\orgm{СЕКЦИЯ ТЕХНОЛОГИЧЕСКОЙ ДОКУМЕНТАЦИИ}{КАЧЕСТВЕННАЯ И ПРИГОДНАЯ ДЛЯ ПРОИЗВОДСТВА ТЕХНОЛОГИЧЕСКАЯ ДОКУМЕНТАЦИЯ.}\orgsep
			\orgm{СЕКЦИЯ ПЛАНИРОВАНИЯ}{ОПТИМАЛЬНЫЙ И УТВЕРЖДЕННЫЙ ПЛАН-ПРОЕКТ, СООТВЕТСТВУЮЩИЙ ЦЕЛЯМ КЛИЕНТА.}\orgsep
			\orgm{СЕКЦИЯ РАЗРЕШЕНИЙ}{СВОЕВРЕМЕННО ПОЛУЧЕННЫЕ РАЗРЕШЕНИЯ ГОСУДАРСТВЕННЫХ ОРГАНОВ.}}%
			{ОТДЕЛА}{ПРИНЯТЫЙ К ИСПОЛНЕНИЮ И ОБЕСПЕЧЕННЫЙ ВСЕЙ ДОКУМЕНТАЦИЕЙ И ПЛАНАМИ ПРОЕКТ, СПОСОБСТВУЮЩИЙ ПОВЫШЕНИЮ СБЫТА КЛИЕНТА.}
		\orgcol{c11}{1472}{630}{8.32cm}{%
			\orgm{СЕКЦИЯ СНАБЖЕНИЯ}{ПРОИЗВОДСТВО, ОБЕСПЕЧЕННОЕ ВСЕМИ НЕОБХОДИМЫМИ МАТЕРИАЛАМИ ДЛЯ БЕСПЕРЕБОЙНОЙ РАБОТЫ.}\orgsep
			\orgm{СЕКЦИЯ ОБСЛУЖИВАНИЯ}{ПРОИЗВОДСТВО, ОБЕСПЕЧЕННОЕ НЕОБХОДИМЫМ ДЛЯ БЕСПЕРЕБОЙНОЙ РАБОТЫ ОБОРУДОВАНИЕМ И ИНСТРУМЕНТОМ.}\orgsep
			\orgm{СЕКЦИЯ УБОРКИ}{ЧИСТОТА В ПРОИЗВОДСТВЕННЫХ ПОМЕЩЕНИЯХ.}\orgsep
			\orgm{СЕКЦИЯ ДОСТАВКИ}{СВОЕВРЕМЕННО И БЕЗОПАСНО ДОСТАВЛЕННЫЕ МАТЕРИАЛЫ, СОТРУДНИКИ И ПРОДУКЦИЯ.}\orgsep
			\orgm{СЕКЦИЯ БЕЗОПАСНОСТИ ТРУДА}{ВЫПОЛНЯЮЩИЕ СВОЮ РАБОТУ В БЕЗОПАСНЫХ УСЛОВИЯХ СОТРУДНИКИ.}}%
			{ОТДЕЛА}{ПРОИЗВОДСТВО, ОБЕСПЕЧЕННОЕ ВСЕМ НЕОБХОДИМЫМ ДЛЯ ЭФФЕКТИВНОЙ И БЕСПЕРЕБОЙНОЙ РАБОТЫ СОГЛАСНО ПЛАНАМ.}
		\orgcol{c12a}{1576}{630}{8.32cm}{%
			\orgsec{СЕКЦИЯ ИЗГОТОВЛЕНИЯ РЕКЛАМНОГО ОФОРМИТЕЛЬНОГО ПРОДУКТА}{МЕНЕДЖЕР\par\vskip 3pt
				\orgsector{СЕКТОР СВАРКИ И ПОКРАСКИ}\orgsubsep
				\orgsector{СЕКТОР СБОРОЧНЫХ, ПОКЛЕЕЧНЫХ И МАКЕТНЫХ РАБОТ}\orgsubsep
				\orgsector{СЕКТОР АКРИЛОВЫХ ИЗДЕЛИЙ}}{КАЧЕСТВЕННО И В СРОК ИЗГОТОВЛЕННАЯ ПРОДУКЦИЯ.}\orgsep
			\orgm{СЕКЦИЯ СУБПОДРЯДА}{СВОЕВРЕМЕННО И КАЧЕСТВЕННО ВЫПОЛНЕННЫЕ РАБОТЫ СУБПОДРЯДЧИКОВ.}\orgsep
			\orgm{СЕКЦИЯ МОНТАЖА}{КАЧЕСТВО И В СРОК ПРОВЕДЕННЫЕ МОНТАЖНЫЕ РАБОТЫ И ЗАПУСК ПРОДУКТА В ЭКСПЛУАТАЦИЮ.}}%
			{ОТДЕЛА}{КАЧЕСТВЕННАЯ ПРОДУКЦИЯ (ОБЪЕКТ, ВВЕДЕННЫЙ В ЭКСПЛУАТАЦИЮ) ИЗГОТОВЛЕННАЯ СОГЛАСНО УСЛОВИЯМ ДОГОВОРА.}
		\orgcol{c12b}{1680}{630}{8.32cm}{%
			\orgm{СЕКЦИЯ ПОЛИГРАФИИ}{КАЧЕСТВЕННО ВЫПОЛНЕННАЯ ПОЛИГРАФИЧЕСКАЯ ПРОДУКЦИЯ.}\orgsep
			\orgm{СЕКЦИЯ РАБОТЫ С СУБПОДРЯДЧИКАМИ}{СВОЕВРЕМЕННО И КАЧЕСТВЕННО ВЫПОЛНЕННЫЕ РАБОТЫ СУБПОДРЯДЧИКОВ.}}%
			{ОТДЕЛА}{КАЧЕСТВЕННАЯ ПОЛИГРАФИЧЕСКАЯ ПРОДУКЦИЯ ИЗГОТОВЛЕННАЯ СОГЛАСНО УСЛОВИЯМ ДОГОВОРА.}
		\orgcol{c13}{1794}{606}{8.56cm}{%
			\orgm{СЕКЦИЯ КОНТРОЛЯ КАЧЕСТВА}{ПРОДУКТ, СООТВЕТСТВУЮЩИЙ ПРИНЯТЫМ ТЕХНИЧЕСКИМ СТАНДАРТАМ КАЧЕСТВА.}\orgsep
			\orgm{СЕКЦИЯ ОПРОСОВ ПО КАЧЕСТВУ}{ВЫЯВЛЕННЫЕ ОТКЛОНЕНИЯ КАЧЕСТВА ПО ОТЗЫВАМ КЛИЕНТОВ.}\orgsep
			\orgm{СЕКЦИЯ УЛАЖИВАНИЯ КЛИЕНТОВ}{УЛАЖЕННЫЕ КЛИЕНТЫ И ПАРТНЕРЫ, ИМЕЮЩИЕ ХОРОШЕЕ МНЕНИЕ О КОМПАНИИ И ЖЕЛАЮЩИЕ ПРОДОЛЖАТЬ СОТРУДНИЧЕСТВО.}}%
			{ОТДЕЛА}{ПЕРЕДАННЫЙ В РУКИ КЛИЕНТА ПРОДУКТ КОМПАНИИ, СООТВЕТСТВУЮЩИЙ ПРИНЯТЫМ СТАНДАРТАМ.}
		\orgcol{c14}{1898}{606}{8.56cm}{%
			\orgm{СЕКЦИЯ БАЗЫ ЗНАНИЙ}{ПОЛНАЯ, НАХОДЯЩАЯСЯ В СОХРАННОСТИ И ДОСТУПНАЯ СОТРУДНИКАМ БИБЛИОТЕКА МАТЕРИАЛОВ.}\orgsep
			\orgm{СЕКЦИЯ УЧЕБНЫХ КУРСОВ И МАТЕРИАЛОВ}{ЭФФЕКТИВНЫЕ КУРСЫ ДЛЯ ОБУЧЕНИЯ СОТРУДНИКОВ.}\orgsep
			\orgm{СЕКЦИЯ ИНДИВИДУАЛЬНЫХ ПРОГРАММ}{СОТРУДНИКИ, СВОЕВРЕМЕННО ВЫПОЛНЯЮЩИЕ ЗАДАНИЯ ПО ИНДИВИДУАЛЬНЫМ ПРОГРАММАМ ОБУЧЕНИЯ.}\orgsep
			\orgm{ВНУТРЕННЯЯ АКАДЕМИЯ}{СОТРУДНИКИ, ПОЛНОСТЬЮ УСВОИВШИЕ ИЗУЧАЕМЫЕ МАТЕРИАЛЫ.}\vskip 4.5pt
			\orgm{СЕКЦИЯ ВНЕШНЕГО ОБУЧЕНИЯ}{СОТРУДНИКИ, УСВОИВШИЕ ИЗУЧАЕМЫЕ МАТЕРИАЛЫ В УСТАНОВЛЕННЫЕ СРОКИ.}}%
			{ОТДЕЛА}{ЭФФЕКТИВНЫЕ, ХОРОШО ОБУЧЕННЫЕ И ПОЛНОСТЬЮ ВЫПОЛНЯЮЩИЕ СВОИ ФУНКЦИИ СОТРУДНИКИ.}
		\orgcol{c15}{2002}{606}{8.56cm}{%
			\orgsec{СОВЕТ ПО КАЧЕСТВУ}{\orgmembers{ПРЕДСЕДАТЕЛЬ}{ЧЛЕНЫ СОВЕТА}}{ЭФФЕКТИВНЫЕ ПРОГРАММЫ ПО СОВЕРШЕНСТВОВАНИЮ КАЧЕСТВА ПРЕДОСТАВЛЕНИЯ.}\orgsep
			\orgm{СЕКЦИЯ КОНТРОЛЯ ПРОГРАММ СОВЕРШЕНСТВОВАНИЯ}{ВОВРЕМЯ ЗАВЕРШЕННЫЕ ПРОГРАММЫ, ПОВЫШАЮЩИЕ КАЧЕСТВО ПРЕДОСТАВЛЕНИЯ КОМПАНИИ.}\orgsep
			\orgm{СЕКЦИЯ ИННОВАЦИЙ}{РАЗРАБОТАННЫЕ И ВНЕДРЕННЫЕ ИННОВАЦИОННЫЕ ПРОГРАММЫ, ПОВЫШАЮЩИЕ ЭФФЕКТИВНОСТЬ СОТРУДНИКОВ И КОМПАНИИ.}}%
			{ОТДЕЛА}{УСОВЕРШЕНСТВОВАННАЯ ДЕЯТЕЛЬНОСТЬ ОРГАНИЗАЦИИ И ЕЕ СОТРУДНИКОВ.}
		\orgcol{c16}{2115}{630}{8.32cm}{%
			\orgm{СЕКЦИЯ ВНЕШНЕГО ВИДА}{БЕЗУПРЕЧНЫЙ ВНЕШНИЙ ВИД КОМПАНИИ И СОТРУДНИКОВ, СОЗДАЮЩИЙ ПРОФЕССИОНАЛЬНОЕ ВПЕЧАТЛЕНИЕ.}\orgsep
			\orgm{СЕКЦИЯ ВНУТРЕННИХ СО}{ХОРОШЕЕ МНЕНИЕ О КОМПАНИИ И ЕЕ ПРОДУКЦИИ У СОТРУДНИКОВ И ПАРТНЕРОВ.}\orgsep
			\orgm{СЕКЦИЯ ОТЗЫВОВ}{ПРИГОДНЫЕ ДЛЯ ПУБЛИКАЦИИ, ВЫЗЫВАЮЩИЕ ДОВЕРИЕ ПОЛОЖИТЕЛЬНЫЕ ОТЗЫВЫ О КОМПАНИИ И ПРОДУКТАХ.}\orgsep
			\orgm{СЕКЦИЯ ПУБЛИКАЦИЙ ПО СО}{ОПУБЛИКОВАННЫЕ МАТЕРИАЛЫ, СОЗДАЮЩИЕ ХОРОШИЙ ИМИДЖ КОМПАНИИ.}}%
			{ОТДЕЛА}{ШИРОКАЯ ИЗВЕСТНОСТЬ КОМПАНИИ И ЕЕ ПРИЗНАНИЕ СРЕДИ КЛИЕНТОВ И ПАРТНЕРОВ.}
		\orgcol{c17}{2219}{630}{8.32cm}{%
			\orgm{СЕКЦИЯ ПРОДВИЖЕНИЯ}{ОТКЛИКИ НА МАРКЕТИНГОВЫЕ КАМПАНИИ ПО ПРОДВИЖЕНИЮ СЕРВИСА.}\orgsep
			\orgm{СЕКЦИЯ ПРОДАЖ}{ДОХОД ОТ ПРОДАЖ СЕРВИСНЫХ УСЛУГ.}\orgsep
			\orgm{СЕКЦИЯ ОБЕСПЕЧЕНИЯ}{ОБЕСПЕЧЕННЫЙ ВСЕМ НЕОБХОДИМЫМ ДЛЯ БЕСПЕРЕБОЙНОЙ РАБОТЫ СЕРВИС.}\orgsep
			\orgm{СЕКЦИЯ ТРАНСПОРТА}{ВОВРЕМЯ ДОСТАВЛЕННЫЕ НА ОБЪЕКТ С МИНИМАЛЬНЫМИ ЗАТРАТАМИ ТОПЛИВА СОТРУДНИКИ, МАТЕРИАЛЫ И ОБОРУДОВАНИЕ.}\orgsep
			\orgm{СЕКЦИЯ ПРЕДОСТАВЛЕНИЯ}{СВОЕВРЕМЕННО И КАЧЕСТВЕННО ВЫПОЛНЕННЫЕ СЕРВИСНЫЕ РАБОТЫ.}}%
			{ОТДЕЛА}{НОВЫЕ КЛИЕНТЫ КОМПАНИИ, ДОВОЛЬНЫЕ УСЛУГАМИ СЕРВИСА И ЖЕЛАЮЩИЕ ПОЛУЧИТЬ ГЛАВНУЮ УСЛУГУ КОМПАНИИ.}
		\orgcol{c18}{2323}{630}{8.32cm}{%
			\orgm{СЕКЦИЯ ПО РАБОТЕ С ПРЕДСТАВИТЕЛЯМИ}{НАПРАВЛЕННЫЕ ПРЕДСТАВИТЕЛЯМИ НОВЫЕ ПОТЕНЦИАЛЬНЫЕ КЛИЕНТЫ.}\orgsep
			\orgm{СЕКЦИЯ ПО РАБОТЕ С ПАРТНЕРАМИ}{НАПРАВЛЕННЫЕ ПАРТНЕРАМИ НОВЫЕ ПОТЕНЦИАЛЬНЫЕ КЛИЕНТЫ.}\orgsep
			\orgm{СЕКЦИЯ КОМИССИОННЫХ}{ВОВРЕМЯ И В ПОЛНОМ ОБЪЕМЕ ВЫПЛАЧЕННОЕ ПРЕДСТАВИТЕЛЯМ И ПАРТНЕРАМ ВОЗНАГРАЖДЕНИЕ.}}%
			{ОТДЕЛА}{ПРЕДСТАВИТЕЛИ И ПАРТНЕРЫ, НАПРАВЛЯЮЩИЕ БОЛЬШОЕ КОЛИЧЕСТВО НОВЫХ КЛИЕНТОВ.}

		% products of the divisions
		\orgdiv{k7}{80}{3.07cm}{3.3}{ПРОЦВЕТАЮЩАЯ И РАЗВИВАЮЩАЯСЯ КОМПАНИЯ,\\ПРОИЗВОДЯЩАЯ ПРОДУКТ БЕЗУПРЕЧНОГО КАЧЕСТВА.}
		\orgdiv{k1}{402}{3.06cm}{2.85}{ВВЕДЕННЫЕ В ДОЛЖНОСТЬ, ХОРОШО ПРОИЗВОДЯЩИЕ СВОИ\\ПРОДУКТЫ СОТРУДНИКИ.}
		\orgdiv{k2}{723}{3.07cm}{3.2}{ДОХОД КОМПАНИИ БОЛЬШЕ ЧЕМ РАСХОДЫ.}
		\orgdiv{k3}{1044}{3.07cm}{2.85}{СОХРАНЕННЫЕ, УЧТЕННЫЕ И НЕ УТРАЧИВАЮЩИЕ СВОЕЙ\\ЦЕННОСТИ\ \ ДЕНЕЖНЫЕ И МАТЕРИАЛЬНЫЕ АКТИВЫ.}
		\orgdiv{k4}{1368}{4.11cm}{2.85}{ЗАВЕРШЕННЫЕ ЭФФЕКТИВНЫЕ РЕКЛАМНЫЕ ПРОЕКТЫ.}
		\orgdiv{k5}{1794}{3.07cm}{2.95}{КВАЛИФИЦИРОВАННЫЕ СОТРУДНИКИ КОМПАНИИ,\\ПРЕДОСТАВЛЯЮЩИЕ КЛИЕНТАМ ЗАВЕРШЕННЫЕ ЭФФЕКТИНЫЕ\\РЕКЛАМНЫЕ ПРОЕКТЫ ВОВРЕМЯ.}
		\orgdiv{k6}{2115}{3.07cm}{2.9}{РАСШИРЯЮЩАЯСЯ ОБЛАСТЬ ВЛИЯНИЯ И НОВЫЕ КЛИЕНТЫ.}

		\node [style=bottom box] (final) at (1251,1607) {ЦКП: КАЧЕСТВЕННО ОФОРМЛЕННЫЕ МЕСТА ПРОДАЖ, ПОВЫШАЮЩИЕ УРОВЕНЬ ПРОДАЖ КЛИЕНТОВ};
	\end{pgfonlayer}
	\begin{pgfonlayer}{edgelayer}
		\coordinate (busA) at (1491,271);
		\coordinate (busB) at (714,395);
		\coordinate (busC) at (1573,395);
		\draw[link] (chair.east) -| (exec.north);
		\draw[link] (chair.south) to (d7.north);
		\draw[link] (exec.south) to (busA);
		\draw[link] (depadm.north) |- (busA) -| (deppub.north);
		\draw[link] (deptech.north) to (deptech.north |- busA);
		\draw[link] (depadm.south) to (busB);
		\draw[link] (d1.north) |- (busB) -| (d2.north);
		\draw[link] (deptech.south) to (d4.north);
		\draw[link] (d3.north) |- (busC) -| (d5.north);
		\draw[link] (deppub.south) to (d6.north);

		\coordinate (b7) at (234,520);
		\coordinate (b1) at (555,496);
		\coordinate (b2) at (877,520);
		\coordinate (b3) at (1198,520);
		\coordinate (b4) at (1573,520);
		\coordinate (b5) at (1947,496);
		\coordinate (b6) at (2269,520);
		\draw[link] (d7.south) to (b7);
		\draw[link] (h21.north) |- (b7) -| (h19.north);
		\draw[link] (h20.north) to (h20.north |- b7);
		\draw[link] (d1.south) to (b1);
		\draw[link] (h1.north) |- (b1) -| (h3.north);
		\draw[link] (h2.north) to (h2.north |- b1);
		\draw[link] (d2.south) to (b2);
		\draw[link] (h4.north) |- (b2) -| (h6.north);
		\draw[link] (h5.north) to (h5.north |- b2);
		\draw[link] (d3.south) to (b3);
		\draw[link] (h7.north) |- (b3) -| (h9.north);
		\draw[link] (h8.north) to (h8.north |- b3);
		\draw[link] (d4.south) to (b4);
		\draw[link] (h10.north) |- (b4) -| (h12b.north);
		\draw[link] (h11.north) to (h11.north |- b4);
		\draw[link] (h12a.north) to (h12a.north |- b4);
		\draw[link] (d5.south) to (b5);
		\draw[link] (h13.north) |- (b5) -| (h15.north);
		\draw[link] (h14.north) to (h14.north |- b5);
		\draw[link] (d6.south) to (b6);
		\draw[link] (h16.north) |- (b6) -| (h18.north);
		\draw[link] (h17.north) to (h17.north |- b6);
		\foreach \n in {21,20,19,1,2,3,4,5,6,7,8,9,10,11,12a,12b,13,14,15,16,17,18}
			\draw[link] (h\n.south) to (c\n.north);
	\end{pgfonlayer}
\end{tikzpicture}
\end{document}
